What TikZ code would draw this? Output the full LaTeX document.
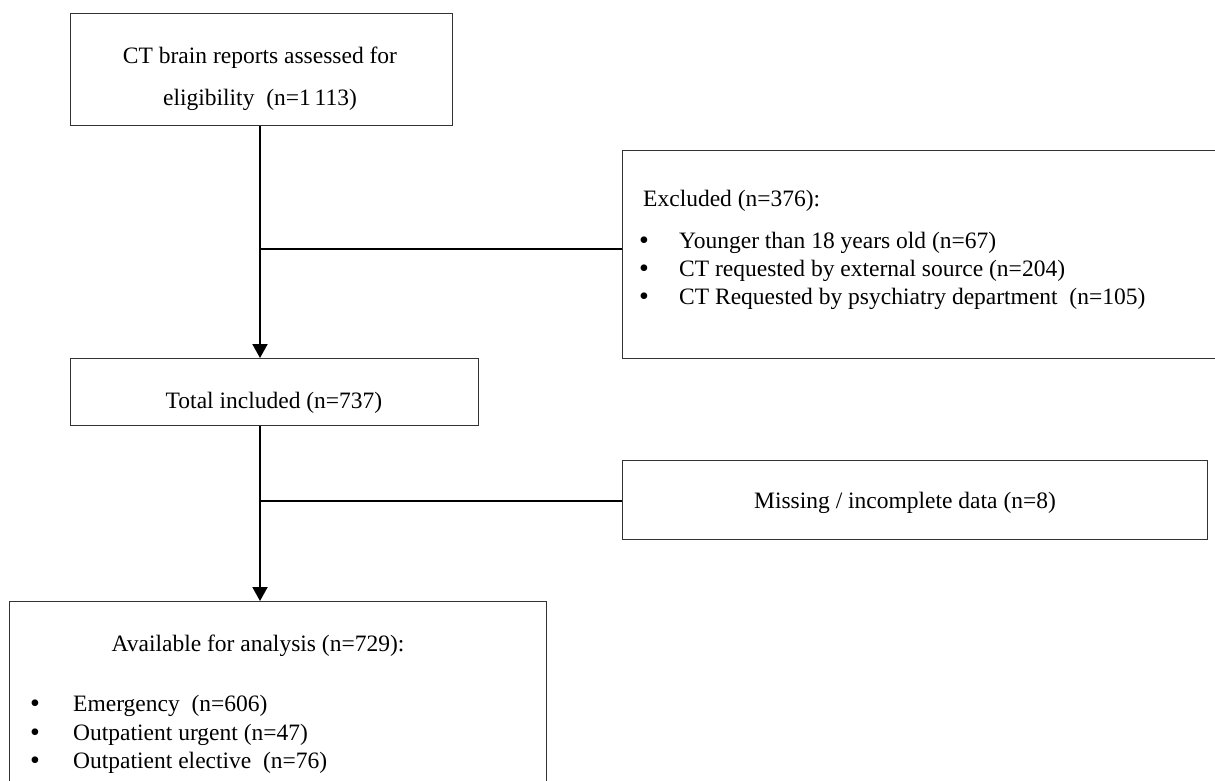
\documentclass[tikz,border=0pt]{standalone}
\usepackage{fontspec}
\setmainfont{Liberation Serif}
\usetikzlibrary{arrows.meta}
\newcommand{\bulA}{\makebox[40pt][l]{\fontsize{28}{28}\selectfont\raisebox{-1.5pt}{•}}}
\newcommand{\bulB}{\makebox[43pt][l]{\fontsize{28}{28}\selectfont\raisebox{-1.5pt}{•}}}
\tikzset{
  box/.style={draw=black!80, line width=1.4pt, anchor=north west, inner sep=0pt},
  txt/.style={font=\fontsize{23.5}{28}\selectfont, inner sep=0pt, anchor=base},
  ltxt/.style={font=\fontsize{23.5}{28}\selectfont, inner sep=0pt, anchor=base west},
  conn/.style={draw=black, line width=2pt},
  arr/.style={conn, -{Triangle[length=14pt,width=15pt]}},
}
\begin{document}
\begin{tikzpicture}[x=1pt,y=-1pt]
\useasboundingbox (0,0) rectangle (1215,780);
\clip (0,0) rectangle (1215,780);
% boxes
\node[box, minimum width=382pt, minimum height=112pt] (b1) at (70,13) {};
\node[box, minimum width=620pt, minimum height=208pt] (b2) at (622,150) {};
\node[box, minimum width=408pt, minimum height=67pt] (b3) at (70,358) {};
\node[box, minimum width=585pt, minimum height=79pt] (b4) at (622,460) {};
\node[box, minimum width=537pt, minimum height=200pt] (b5) at (9,601) {};
% texts
\node[txt] (t1a) at (260,63) {CT brain reports assessed for};
\node[txt] (t1b) at (260,105) {eligibility\ \ (n=1\,113)};
\node[ltxt] (t2) at (643,206) {Excluded (n=376):};
\node[ltxt] (t2a) at (639,248) {\bulA Younger than 18 years old (n=67)};
\node[ltxt] (t2b) at (639,276) {\bulA CT requested by external source (n=204)};
\node[ltxt] (t2c) at (639,304) {\bulA CT Requested by psychiatry department\ \ (n=105)};
\node[txt] (t3) at (274,408) {Total included (n=737)};
\node[txt] (t4) at (905,508) {Missing / incomplete data (n=8)};
\node[txt] (t5) at (258,651) {Available for analysis (n=729):};
\node[ltxt] (t5a) at (30,711) {\bulB Emergency\ \ (n=606)};
\node[ltxt] (t5b) at (30,740) {\bulB Outpatient urgent (n=47)};
\node[ltxt] (t5c) at (30,768) {\bulB Outpatient elective\ \ (n=76)};
% connectors
\coordinate (j1) at (260,249);
\coordinate (j2) at (260,501);
\draw[arr] (b1.south -| j1) -- (b3.north -| j1);
\draw[conn] (j1) -- (b2.west |- j1);
\draw[arr] (b3.south -| j2) -- (b5.north -| j2);
\draw[conn] (j2) -- (b4.west |- j2);
\end{tikzpicture}
\end{document}
